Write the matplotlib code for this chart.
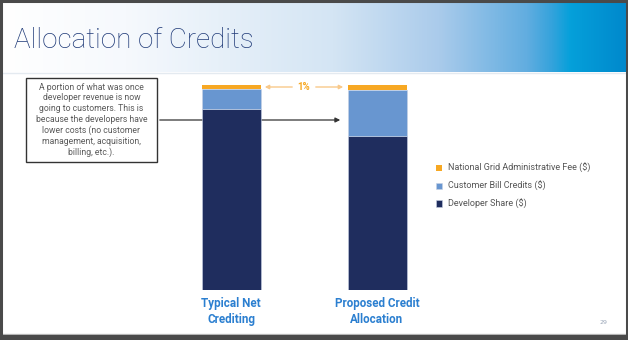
import numpy as np
import matplotlib
matplotlib.use('Agg')
import matplotlib.pyplot as plt
from matplotlib.colors import LinearSegmentedColormap
from matplotlib.patches import Rectangle

# data (share of total, %)
categories = ['Typical Net\nCrediting', 'Proposed Credit\nAllocation']
developer_share = [88.5, 75.0]
customer_credits = [9.5, 22.5]
admin_fee = [2.0, 2.5]
series_names = ['National Grid Administrative Fee ($)', 'Customer Bill Credits ($)', 'Developer Share ($)']

navy = '#1f2d5e'
lblue = '#6896d0'
orange = '#f7a823'
title_col = '#1f3a78'
cat_col = '#2b7fd0'

W, H = 628, 340
fig = plt.figure(figsize=(W / 100, H / 100), dpi=100)
fig.patch.set_facecolor('white')

# background / decoration axes in pixel coords
bg = fig.add_axes([0, 0, 1, 1])
bg.set_xlim(0, W)
bg.set_ylim(H, 0)
bg.axis('off')

grad = LinearSegmentedColormap.from_list('hdr', [
    (0.0, '#ffffff'), (0.2, '#f6f9fd'), (0.53, '#d4e5f4'), (0.70, '#aacbeb'),
    (0.84, '#62ade0'), (0.88, '#35a3dc'), (0.91, '#05a0da'), (1.0, '#0088cc')])
bg.imshow(np.linspace(0, 1, 256)[None, :], cmap=grad, aspect='auto',
          extent=(0, W, 72, 2), zorder=0)
bg.plot([0, W], [72.5, 72.5], color='#e4eaf0', lw=1, zorder=1)
bg.text(14, 40, 'Allocation of Credits', fontsize=20, color=title_col,
        family='Roboto', fontweight='light', va='center', ha='left', zorder=2)

# frame
bg.add_patch(Rectangle((0.5, 0.5), W - 1.5, H - 3, fill=False, ec='#4a4a4a', lw=2.2, zorder=5))
bg.plot([2, W - 2], [334, 334], color='#d0d0d0', lw=1, zorder=4)
bg.add_patch(Rectangle((0, 335), W, 5, color='#4a4a4a', zorder=5))

# annotation box and arrow
bg.add_patch(Rectangle((26, 78), 131, 84, fill=False, ec='#333333', lw=1, zorder=3))
bg.text(91.5, 120, 'A portion of what was once\ndeveloper revenue is now\ngoing to customers. This is\n'
        'because the developers have\nlower costs (no customer\nmanagement, acquisition,\nbilling, etc.).',
        ha='center', va='center', fontsize=6.2, color='#5a5a5a', family='Roboto',
        linespacing=1.25, zorder=3)

# 1% bracket
bg.annotate('', xy=(262, 87), xytext=(295, 87),
            arrowprops=dict(arrowstyle='-|>', color='#f9c98a', lw=1, mutation_scale=6), zorder=6)
bg.annotate('', xy=(346, 87), xytext=(313, 87),
            arrowprops=dict(arrowstyle='-|>', color='#f9c98a', lw=1, mutation_scale=6), zorder=6)
bg.text(304, 87.5, '1%', ha='center', va='center', fontsize=7, color=orange,
        fontweight='bold', family='Roboto', zorder=6)

bg.text(603, 323, '29', ha='center', va='center', fontsize=4.5, color='#9aa6b8', zorder=3)

# bar axes: y 0..100 -> pixels 290..85
x0, x1 = 160, 450
ax = fig.add_axes([x0 / W, (H - 290) / H, (x1 - x0) / W, 205 / H])
ax.patch.set_alpha(0)
px_per_unit = 146
ax.set_xlim(-(231 - x0) / px_per_unit, 1 + (x1 - 377) / px_per_unit)
ax.set_ylim(0, 100)
x = np.arange(len(categories))
bw = 59 / px_per_unit
dev = np.array(developer_share)
cred = np.array(customer_credits)
fee = np.array(admin_fee)
h1 = ax.bar(x, dev, bw, color=navy, edgecolor='#c8d2e4', lw=0.4, label=series_names[2])
h2 = ax.bar(x, cred, bw, bottom=dev, color=lblue, edgecolor='#c8d2e4', lw=0.4, label=series_names[1])
h3 = ax.bar(x, fee, bw, bottom=dev + cred, color=orange, edgecolor='none', label=series_names[0])
for s in ax.spines.values():
    s.set_visible(False)
ax.set_yticks([])
ax.set_xticks(x)
ax.set_xticklabels(categories, fontsize=8.4, fontweight='bold', color=cat_col,
                   family='Roboto', linespacing=1.35)
ax.tick_params(axis='x', length=0, pad=5)

# long pointer arrow over first bar
bg.annotate('', xy=(343, 120), xytext=(157, 120),
            arrowprops=dict(arrowstyle='-|>', color='#333333', lw=0.9, mutation_scale=7), zorder=7)

leg = fig.legend(handles=[h3, h2, h1], labels=series_names, loc='upper left',
                 bbox_to_anchor=(428 / W, 1 - 155 / H), frameon=False,
                 handlelength=0.7, handleheight=0.7, handletextpad=0.6, labelspacing=0.85,
                 prop={'family': 'Roboto', 'size': 6.5})
for t in leg.get_texts():
    t.set_color('#555555')

fig.savefig('out.png', dpi=100)
